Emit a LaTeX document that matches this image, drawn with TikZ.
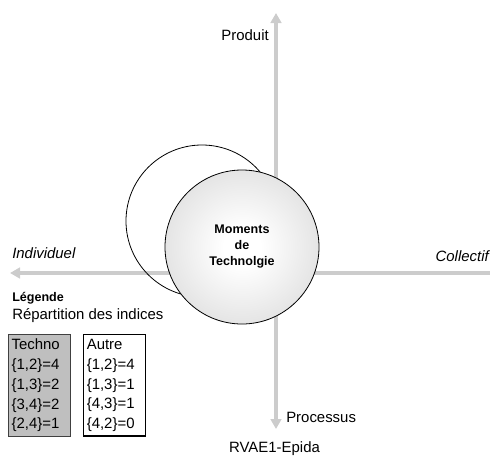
\documentclass[tikz,border=0pt]{standalone}
\usepackage{fontspec}
\setmainfont{Liberation Sans}
\usetikzlibrary{arrows.meta, positioning}
\pgfdeclareradialshading{momentshade}{\pgfpoint{0bp}{0bp}}{color(0bp)=(white); color(6bp)=(white); color(50bp)=(black!24); color(100bp)=(black!24)}
\newcommand{\etiqtaille}{\fontsize{11.2}{14.8}\selectfont}

\tikzset{
  axe/.style={line width=3pt, draw=black!20, >={Triangle[length=7.5pt, width=8pt]}},
  etiq/.style={inner sep=0pt, font=\etiqtaille},
  bulle/.style={draw, circle, line width=0.6pt, inner sep=0pt},
  legbox/.style={draw, line width=0.9pt, anchor=north west, minimum width=46.5pt, minimum height=75pt,
    text width=42pt, align=left, inner xsep=2.25pt, font=\etiqtaille},
}

\begin{document}
\begin{tikzpicture}[x=0.75pt, y=-0.75pt]
    \useasboundingbox (0,0) rectangle (490,462);
    % axes
    \coordinate (haut) at (276,13);
    \coordinate (bas) at (276,429);
    \coordinate (gauche) at (10,273);
    \coordinate (droite) at (490,273);
    \draw [axe, <->] (haut) -- (bas);
    \draw [axe, <-] (gauche) -- (droite);
    % cercles
    \node [bulle, minimum size=114pt] (autre) at (202,221) {};
    \node [bulle, minimum size=115.5pt, shading=momentshade, align=center,
      font=\bfseries\fontsize{9.4}{12}\selectfont] (moments) at (242,247) {Moments\\de\\Technolgie};
    % etiquettes des axes
    \node [etiq, anchor=east] (produit) at (269,35) {Produit};
    \node [etiq, anchor=west] (processus) at (286,417) {Processus};
    \node [etiq, anchor=west, font=\etiqtaille\itshape] (individuel) at (12,253) {Individuel};
    \node [etiq, anchor=east, font=\etiqtaille\itshape] (collectif) at (489,256) {Collectif};
    \node [etiq] (source) at (274.5,449) {RVAE1-Epida};
    % legende
    \node [etiq, anchor=west, font=\bfseries\fontsize{9.4}{12}\selectfont] (legende) at (12,298) {Légende};
    \node [etiq, anchor=west] (repartition) at (12,316) {Répartition des indices};
    \node [legbox, fill=black!25, draw=black!75] (techno) at (8,334) {Techno\\\{1,2\}=4\\\{1,3\}=2\\\{3,4\}=2\\\{2,4\}=1};
    \node [legbox, fill=white, right=9pt of techno] (autres) {Autre\\\{1,2\}=4\\\{1,3\}=1\\\{4,3\}=1\\\{4,2\}=0};
\end{tikzpicture}
\end{document}
